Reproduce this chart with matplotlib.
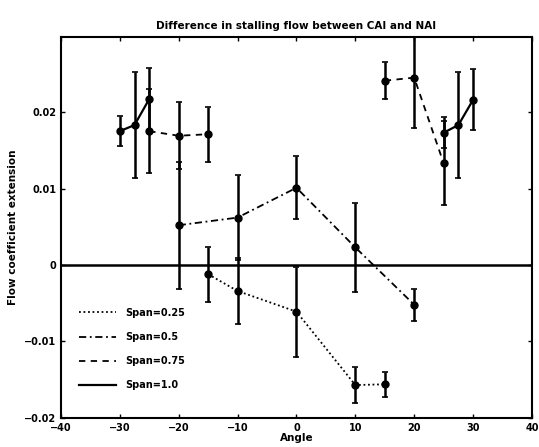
import matplotlib.pyplot as plt
import numpy as np

# === Données ===
angle_025 = [-15, -10, 0, 10, 15]
val_025 = [-0.0012, -0.0034, -0.0061, -0.0157, -0.0156]
err_025 = [0.0036, 0.0043, 0.0059, 0.0023, 0.0016]

angle_05 = [-20, -10, 0, 10, 20]
val_05 = [0.0052, 0.0062, 0.0101, 0.0023, -0.0052]
err_05 = [0.0083, 0.0056, 0.0041, 0.0058, 0.0021]

angle_075_g = [-25, -20, -15]
val_075_g = [0.0175, 0.0169, 0.0171]
err_075_g = [0.0055, 0.0044, 0.0036]
angle_075_d = [15, 20, 25]
val_075_d = [0.0241, 0.0245, 0.0133]
err_075_d = [0.0024, 0.0066, 0.0055]

angle_10_g = [-30, -27.5, -25]
val_10_g = [0.0175, 0.0183, 0.0217]
err_10_g = [0.0020, 0.0069, 0.0040]
angle_10_d = [25, 27.5, 30]
val_10_d = [0.0173, 0.0183, 0.0216]
err_10_d = [0.0020, 0.0069, 0.0040]

xticks = [-40, -30, -20, -10, 0, 10, 20, 30, 40]
yticks = [-0.02, -0.01, 0, 0.01, 0.02]
ytick_labels = ['\u22120.02', '\u22120.01', '0', '0.01', '0.02']
xtick_labels = ['\u221240', '\u221230', '\u221220', '\u221210', '0', '10', '20', '30', '40']

plt.rcParams['font.family'] = ['DejaVu Sans']
plt.rcParams['font.weight'] = 'bold'
plt.rcParams['axes.titleweight'] = 'bold'
plt.rcParams['axes.labelweight'] = 'bold'

fig = plt.figure(figsize=(5.39, 4.47), dpi=100)
ax = fig.add_axes([0.113, 0.065, 0.874, 0.852])

ax.axhline(0, color='black', linewidth=1.8, zorder=1)

def tracer(x, y, e, style, label=None, lw=1.3):
    ax.errorbar(x, y, yerr=e, fmt='o', color='black', markersize=5,
                elinewidth=1.8, capsize=2, capthick=1.2, zorder=3)
    ax.plot(x, y, linestyle=style, color='black', linewidth=lw, label=label, zorder=2)

tracer(angle_025, val_025, err_025, (0, (1, 1.5)), 'Span=0.25')
tracer(angle_05, val_05, err_05, (0, (4, 2, 1, 2)), 'Span=0.5')
tracer(angle_075_g, val_075_g, err_075_g, (0, (3.5, 3)), 'Span=0.75')
tracer(angle_075_d, val_075_d, err_075_d, (0, (3.5, 3)))
tracer(angle_10_g, val_10_g, err_10_g, '-', 'Span=1.0', lw=1.6)
tracer(angle_10_d, val_10_d, err_10_d, '-', lw=1.6)

ax.set_xlim(-40, 40)
ax.set_ylim(-0.02, 0.0298)
ax.set_xticks(xticks)
ax.set_xticklabels(xtick_labels)
ax.set_yticks(yticks)
ax.set_yticklabels(ytick_labels)
ax.tick_params(direction='in', top=True, right=True, length=3, labelsize=7, width=1)
for s in ax.spines.values():
    s.set_linewidth(1.5)

ax.set_title('Difference in stalling flow between CAI and NAI', fontsize=7.5, pad=6)
ax.set_xlabel('Angle', fontsize=7.5, labelpad=0)
ax.set_ylabel('Flow coefficient extension', fontsize=7.5, labelpad=4)

ax.legend(loc='lower left', frameon=False, fontsize=7, handlelength=3.8,
          handletextpad=1.0, labelspacing=1.45, bbox_to_anchor=(0.02, 0.05))

plt.savefig('out.png', dpi=100)
